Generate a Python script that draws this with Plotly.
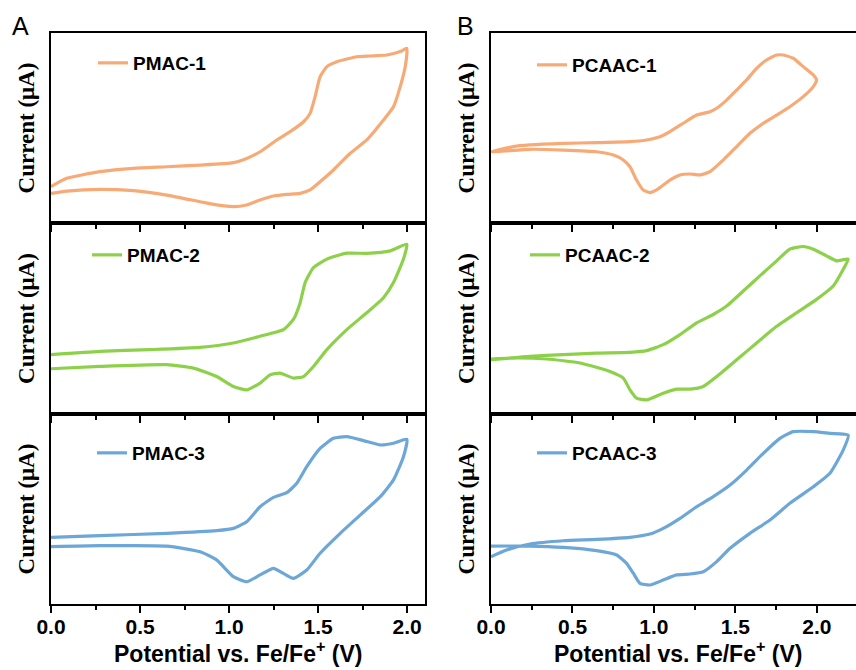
import plotly.graph_objects as go

W, H = 856, 670

# ---- Cyclic voltammograms: potential (V vs Fe/Fe+) and current (a.u.) ----
# Each loop: forward (anodic) scan first, then the reverse (cathodic) scan.

pmac1_v = [0.00, 0.088, 0.275, 0.462, 0.650, 0.837, 1.024, 1.099, 1.174, 1.268, 1.343, 1.418,
           1.455, 1.483, 1.511, 1.549, 1.605, 1.717, 1.792, 1.886, 1.961, 1.998,
           1.989, 1.961, 1.923, 1.867, 1.773, 1.680, 1.586, 1.511, 1.455, 1.399, 1.324,
           1.249, 1.174, 1.099, 1.024, 0.930, 0.837, 0.650, 0.462, 0.275, 0.088, 0.00]
pmac1_i = [19.1, 23.5, 27.0, 28.8, 29.6, 30.5, 31.8, 34.0, 37.5, 43.7, 48.1, 53.3,
           57.7, 66.5, 77.0, 82.3, 84.9, 87.5, 87.9, 88.4, 90.2, 91.9,
           82.3, 71.8, 61.2, 54.2, 43.7, 36.7, 27.9, 21.7, 17.4, 15.6, 15.1,
           14.2, 12.1, 9.5, 8.6, 9.5, 11.2, 14.7, 17.0, 17.7, 16.8, 15.6]

pmac2_v = [0.00, 0.275, 0.556, 0.837, 1.024, 1.174, 1.305, 1.361, 1.399, 1.427, 1.474,
           1.549, 1.661, 1.773, 1.905, 1.998,
           1.979, 1.923, 1.867, 1.773, 1.661, 1.549, 1.474, 1.418, 1.361, 1.286,
           1.230, 1.174, 1.099, 1.024, 0.930, 0.799, 0.650, 0.275, 0.00]
pmac2_i = [31.1, 32.8, 33.7, 34.9, 37.2, 40.7, 44.2, 49.5, 58.3, 68.8, 76.7,
           81.1, 84.2, 84.1, 85.4, 88.9,
           81.1, 68.8, 60.9, 53.0, 44.2, 33.7, 24.9, 19.6, 18.8, 21.4,
           20.5, 16.2, 12.6, 14.4, 19.6, 24.0, 25.8, 24.9, 23.7]

pmac3_v = [0.00, 0.275, 0.650, 0.930, 1.024, 1.099, 1.174, 1.249, 1.324, 1.380, 1.436,
           1.511, 1.586, 1.661, 1.755, 1.849, 1.923, 1.998,
           1.979, 1.923, 1.849, 1.736, 1.624, 1.511, 1.436, 1.361, 1.305, 1.249,
           1.174, 1.099, 1.024, 0.930, 0.837, 0.650, 0.275, 0.00]
pmac3_i = [35.1, 36.0, 37.2, 38.6, 39.8, 43.3, 51.2, 56.1, 58.6, 63.5, 72.3,
           81.9, 87.2, 88.1, 86.0, 83.7, 84.6, 86.7,
           77.5, 65.3, 56.5, 46.8, 37.2, 26.7, 17.9, 13.5, 16.1, 18.8,
           15.3, 11.7, 14.4, 23.2, 27.5, 30.5, 30.7, 30.2]

pcaac1_v = [0.00, 0.137, 0.239, 0.444, 0.648, 0.853, 0.955, 1.037, 1.098, 1.180, 1.262,
            1.344, 1.385, 1.446, 1.508, 1.569, 1.620, 1.691, 1.753, 1.794, 1.855, 1.916,
            1.978, 1.998,
            1.978, 1.916, 1.834, 1.753, 1.671, 1.589, 1.508, 1.426, 1.344, 1.282, 1.221,
            1.160, 1.098, 1.016, 0.975, 0.934, 0.893, 0.853, 0.812, 0.751, 0.648, 0.444,
            0.239, 0.00]
pcaac1_i = [37.5, 40.2, 41.1, 41.9, 42.3, 42.8, 43.7, 45.4, 48.1, 52.5, 56.8,
            58.6, 60.4, 64.7, 70.0, 75.3, 80.5, 85.8, 88.4, 88.4, 86.7, 82.3,
            77.9, 75.3,
            71.8, 66.5, 61.2, 56.8, 52.5, 47.2, 40.2, 33.2, 27.0, 25.3, 25.8,
            25.3, 22.6, 17.4, 16.0, 17.4, 22.6, 29.6, 33.2, 35.8, 37.5, 38.4,
            38.8, 37.5]

pcaac2_v = [0.00, 0.239, 0.444, 0.648, 0.853, 0.955, 1.057, 1.160, 1.262, 1.364, 1.446,
            1.548, 1.650, 1.753, 1.834, 1.916, 1.978, 2.059, 2.121, 2.192,
            2.162, 2.100, 1.998, 1.875, 1.753, 1.630, 1.508, 1.385, 1.303, 1.221,
            1.139, 1.057, 0.955, 0.893, 0.853, 0.812, 0.730, 0.546, 0.342, 0.137, 0.00]
pcaac2_i = [28.4, 30.2, 31.1, 31.9, 32.3, 33.2, 36.3, 41.6, 47.7, 52.1, 56.5,
            64.4, 72.3, 80.2, 86.3, 87.7, 86.3, 82.8, 80.2, 81.1,
            75.8, 67.0, 60.0, 53.0, 45.9, 37.2, 28.4, 19.6, 14.4, 13.0,
            13.0, 10.9, 7.4, 8.3, 12.6, 18.8, 22.3, 26.7, 28.8, 29.3, 28.8]

pcaac3_v = [0.00, 0.096, 0.239, 0.444, 0.648, 0.853, 0.975, 1.057, 1.160, 1.262, 1.364,
            1.467, 1.569, 1.671, 1.773, 1.855, 1.978, 2.080, 2.192,
            2.162, 2.080, 1.978, 1.834, 1.712, 1.589, 1.467, 1.385, 1.303, 1.221,
            1.139, 1.057, 0.975, 0.914, 0.873, 0.832, 0.771, 0.648, 0.444, 0.239, 0.00]
pcaac3_i = [24.9, 28.4, 31.6, 33.3, 34.0, 35.1, 36.8, 39.8, 45.1, 51.2, 56.5,
            62.6, 70.5, 79.3, 87.2, 90.7, 90.7, 89.8, 88.9,
            81.1, 68.8, 61.7, 53.0, 44.2, 37.2, 29.3, 22.3, 17.0, 15.8,
            15.3, 12.6, 10.0, 10.9, 16.2, 21.4, 25.8, 28.1, 29.8, 30.5, 30.5]

names = ["PMAC-1", "PMAC-2", "PMAC-3", "PCAAC-1", "PCAAC-2", "PCAAC-3"]
potentials = [pmac1_v, pmac2_v, pmac3_v, pcaac1_v, pcaac2_v, pcaac3_v]
currents = [pmac1_i, pmac2_i, pmac3_i, pcaac1_i, pcaac2_i, pcaac3_i]
colors = ["#F8AA76", "#8DD14B", "#6CA7D8", "#F8AA76", "#8DD14B", "#6CA7D8"]

x_ticks = [0.0, 0.5, 1.0, 1.5, 2.0]
x_ticktext = ["0.0", "0.5", "1.0", "1.5", "2.0"]
x_range_a = [0, 2.1]
x_range_b = [0, 2.24]
y_range = [0, 100]
x_title = "Potential vs. Fe/Fe<sup>+</sup> (V)"

# ---- layout geometry (pixels) ----
col_px = [(51, 425), (491, 856)]
row_px = [(33, 223), (223, 414), (414, 604)]
legend_px = [(93, 63), (87, 255), (92, 453), (532, 65), (525, 255), (532, 453)]
x_title_px = [(238, 652), (678, 652)]

SANS = "Liberation Sans, Arial, sans-serif"
SERIF = "Liberation Serif, Times New Roman, serif"

fig = go.Figure()
layout = dict(
    width=W, height=H,
    margin=dict(l=0, r=0, t=0, b=0),
    paper_bgcolor="white", plot_bgcolor="white",
    font=dict(family=SANS, color="black"),
    annotations=[],
)

for k in range(6):
    col, row = divmod(k, 3)
    ax = "" if k == 0 else str(k + 1)
    leg = "legend" if k == 0 else f"legend{k + 1}"
    fig.add_trace(go.Scatter(
        x=potentials[k], y=currents[k], mode="lines", name=names[k],
        line=dict(color=colors[k], width=3.2, shape="spline", smoothing=0.5),
        xaxis="x" + ax, yaxis="y" + ax, legend=leg, showlegend=True,
    ))

    x0, x1 = col_px[col]
    yt, yb = row_px[row]
    bottom = row == 2
    layout["xaxis" + ax] = dict(
        domain=[x0 / W, x1 / W], anchor="y" + ax, automargin=False,
        range=x_range_a if col == 0 else x_range_b,
        tickvals=x_ticks, ticktext=x_ticktext,
        ticks="outside", ticklen=7, tickwidth=2, tickcolor="black",
        minor=dict(dtick=0.25, tick0=0, ticks="outside", ticklen=4, tickwidth=2, tickcolor="black"),
        showline=True, linewidth=2, linecolor="black", mirror=True,
        showgrid=False, zeroline=False,
        showticklabels=bottom, ticklabelstandoff=-4,
        tickfont=dict(family=SANS, size=21, weight="bold", color="black"),
    )
    layout["yaxis" + ax] = dict(
        domain=[1 - yb / H, 1 - yt / H], anchor="x" + ax, automargin=False,
        range=y_range, showticklabels=False, ticks="",
        showline=True, linewidth=2, linecolor="black", mirror=(col == 0),
        showgrid=False, zeroline=False,
        title=dict(text="Current (μA)",
                   font=dict(family=SERIF, size=23, weight="bold", color="black"),
                   standoff=8),
    )

    lx, ly = legend_px[k]
    layout[leg] = dict(
        x=lx / W, y=1 - ly / H, xanchor="left", yanchor="middle",
        bgcolor="rgba(0,0,0,0)", borderwidth=0,
        font=dict(family=SANS, size=19, weight="bold", color="black"),
    )

# x-axis titles under each column
for tx, ty in x_title_px:
    layout["annotations"].append(dict(
        text=x_title, x=tx / W, y=1 - ty / H, xref="paper", yref="paper",
        xanchor="center", yanchor="middle", showarrow=False,
        font=dict(family=SANS, size=23, weight="bold", color="black"),
    ))

# panel letters
for label, px in (("A", 20), ("B", 465)):
    layout["annotations"].append(dict(
        text=label, x=px / W, y=1 - 26 / H, xref="paper", yref="paper",
        xanchor="center", yanchor="middle", showarrow=False,
        font=dict(family=SANS, size=25, color="black"),
    ))

fig.update_layout(**layout)
fig.write_html("out.html")
